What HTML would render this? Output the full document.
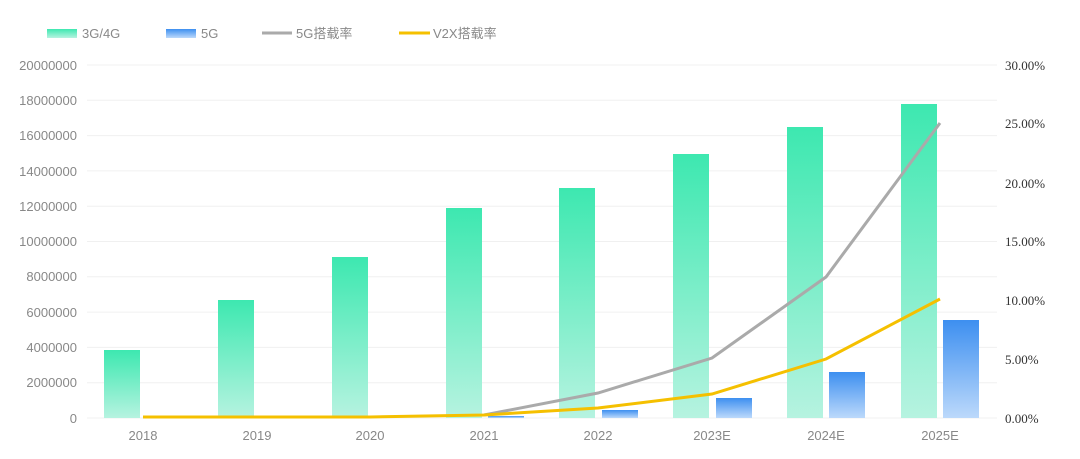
<!DOCTYPE html>
<html><head><meta charset="utf-8"><style>
html,body{margin:0;padding:0;background:#fff;}
svg{display:block;}
.l{font-family:"Liberation Sans","Noto Sans CJK SC",sans-serif;font-size:13px;fill:#888;}
.r{font-family:"Liberation Serif",serif;font-size:13px;fill:#333;}
</style></head><body>
<svg width="1080" height="459" viewBox="0 0 1080 459" xmlns="http://www.w3.org/2000/svg">
<defs>
<linearGradient id="g" x1="0" y1="0" x2="0" y2="1"><stop offset="0" stop-color="#3de8b0"/><stop offset="1" stop-color="#b6f3e0"/></linearGradient>
<linearGradient id="b" x1="0" y1="0" x2="0" y2="1"><stop offset="0" stop-color="#3d8ff0"/><stop offset="1" stop-color="#bcd9fb"/></linearGradient>
</defs>
<!-- legend -->
<rect x="47" y="29" width="30" height="9" fill="url(#g)"/>
<text class="l" x="82" y="38">3G/4G</text>
<rect x="166" y="29" width="30" height="9" fill="url(#b)"/>
<text class="l" x="201" y="38">5G</text>
<line x1="262" y1="33" x2="292" y2="33" stroke="#aaa" stroke-width="3"/>
<text class="l" x="296" y="38">5G搭载率</text>
<line x1="399" y1="33" x2="430" y2="33" stroke="#f5c000" stroke-width="3"/>
<text class="l" x="433" y="38">V2X搭载率</text>
<!-- grid -->
<g stroke="#f0f0f0" stroke-width="1">
<line x1="87" x2="997" y1="65" y2="65"/><line x1="87" x2="997" y1="100.3" y2="100.3"/>
<line x1="87" x2="997" y1="135.6" y2="135.6"/><line x1="87" x2="997" y1="170.9" y2="170.9"/>
<line x1="87" x2="997" y1="206.2" y2="206.2"/><line x1="87" x2="997" y1="241.5" y2="241.5"/>
<line x1="87" x2="997" y1="276.8" y2="276.8"/><line x1="87" x2="997" y1="312.1" y2="312.1"/>
<line x1="87" x2="997" y1="347.4" y2="347.4"/><line x1="87" x2="997" y1="382.7" y2="382.7"/>
<line x1="87" x2="997" y1="418" y2="418"/>
</g>
<g class="l" text-anchor="end">
<text x="77" y="70">20000000</text><text x="77" y="105">18000000</text><text x="77" y="140">16000000</text>
<text x="77" y="176">14000000</text><text x="77" y="211">12000000</text><text x="77" y="246">10000000</text>
<text x="77" y="281">8000000</text><text x="77" y="317">6000000</text><text x="77" y="352">4000000</text>
<text x="77" y="387">2000000</text><text x="77" y="423">0</text>
</g>
<g class="r">
<text x="1005" y="70">30.00%</text><text x="1005" y="128">25.00%</text><text x="1005" y="188">20.00%</text>
<text x="1005" y="246">15.00%</text><text x="1005" y="305">10.00%</text><text x="1005" y="364">5.00%</text>
<text x="1005" y="423">0.00%</text>
</g>
<g class="l" text-anchor="middle">
<text x="143" y="440">2018</text><text x="257" y="440">2019</text><text x="370" y="440">2020</text>
<text x="484" y="440">2021</text><text x="598" y="440">2022</text><text x="712" y="440">2023E</text>
<text x="826" y="440">2024E</text><text x="940" y="440">2025E</text>
</g>
<!-- green bars -->
<g fill="url(#g)">
<rect x="104" y="350" width="36" height="68"/>
<rect x="218" y="300" width="36" height="118"/>
<rect x="332" y="257" width="36" height="161"/>
<rect x="446" y="208" width="36" height="210"/>
<rect x="559" y="188" width="36" height="230"/>
<rect x="673" y="154" width="36" height="264"/>
<rect x="787" y="127" width="36" height="291"/>
<rect x="901" y="104" width="36" height="314"/>
</g>
<g fill="url(#b)">
<rect x="488" y="416" width="36" height="2"/>
<rect x="602" y="410" width="36" height="8"/>
<rect x="716" y="398" width="36" height="20"/>
<rect x="829" y="372" width="36" height="46"/>
<rect x="943" y="320" width="36" height="98"/>
</g>
<polyline fill="none" stroke="#aaa" stroke-width="3" points="484,415 598,393 712,358 826,277 940,123"/>
<polyline fill="none" stroke="#f5c000" stroke-width="3" points="143,417 257,417 370,417 484,415 598,408 712,394 826,359 940,299"/>
</svg>
</body></html>
